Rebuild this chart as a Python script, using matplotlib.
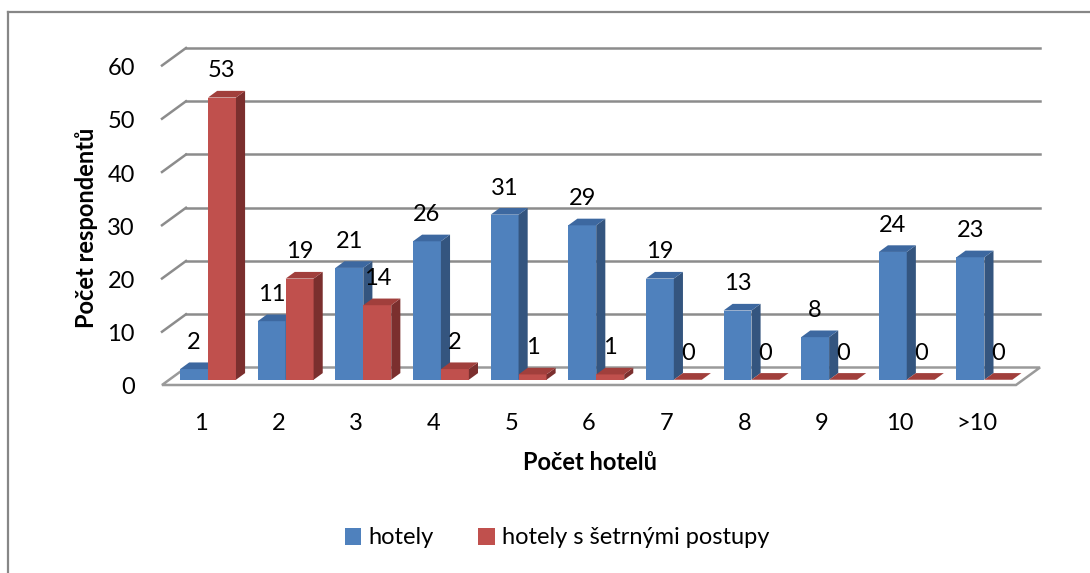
import numpy as np
import matplotlib.pyplot as plt
from matplotlib.patches import Polygon, Patch
from matplotlib.lines import Line2D

categories = ["1", "2", "3", "4", "5", "6", "7", "8", "9", "10", ">10"]
hotely = [2, 11, 21, 26, 31, 29, 19, 13, 8, 24, 23]
setrne = [53, 19, 14, 2, 1, 1, 0, 0, 0, 0, 0]
y_ticks = [0, 10, 20, 30, 40, 50, 60]
series_names = ["hotely", "hotely s šetrnými postupy"]

plt.rcParams['font.family'] = ['Lato', 'DejaVu Sans']
FS = 17

W, H = 1090, 573
fig = plt.figure(figsize=(W / 100, H / 100), dpi=100)

# front plane of the 3d box, in pixels
x0, x1 = 162, 1016
yb, yt = 385, 65.5
ax = fig.add_axes([x0 / W, 1 - yb / H, (x1 - x0) / W, (yb - yt) / H])
n = len(categories)
ax.set_xlim(-0.5, n - 0.5)
ax.set_ylim(0, 60)
ax.axis('off')

px_x = (x1 - x0) / n
px_y = (yb - yt) / 60
DX = 24 / px_x      # depth of the box, data units
DY = 17.5 / px_y

grid_c = '#8c8c8c'

# floor
floor = Polygon([(-0.5, 0), (n - 0.5, 0), (n - 0.5 + DX, DY), (-0.5 + DX, DY)],
                closed=True, facecolor='white', edgecolor='#9a9a9a', lw=1.8,
                clip_on=False, zorder=0)
ax.add_patch(floor)

# back wall grid lines + left diagonals
for v in y_ticks[1:]:
    ax.add_line(Line2D([-0.5 + DX, n - 0.5 + DX], [v + DY, v + DY], color=grid_c,
                       lw=1.8, clip_on=False, zorder=0))
    ax.add_line(Line2D([-0.5, -0.5 + DX], [v, v + DY], color=grid_c,
                       lw=1.8, clip_on=False, zorder=0))

# 3d bars
f_front = 0.3
f_depth = 0.38
bw = 0.36
sx, sy = f_front * DX, f_front * DY
ddx, ddy = f_depth * DX, f_depth * DY

colors = [('#4f81bd', '#34557f', '#3d68a0'),
          ('#c0504d', '#7b2f2e', '#a13f3c')]

for i in range(n):
    for k, vals in enumerate([hotely, setrne]):
        h = vals[i]
        front, side, top = colors[k]
        xl = i + sx - bw + k * bw
        xr = xl + bw
        ax.bar(xl, h, width=bw, bottom=sy, align='edge', color=front,
               edgecolor='none', clip_on=False)
        ax.add_patch(Polygon([(xr, sy), (xr + ddx, sy + ddy), (xr + ddx, sy + h + ddy), (xr, sy + h)],
                             closed=True, facecolor=side, edgecolor='none', clip_on=False))
        ax.add_patch(Polygon([(xl, sy + h), (xr, sy + h), (xr + ddx, sy + h + ddy), (xl + ddx, sy + h + ddy)],
                             closed=True, facecolor=top, edgecolor='none', clip_on=False))
        ax.annotate(str(h), (xl + bw / 2, sy + h + ddy), xytext=(0, 20),
                    textcoords='offset pixels', ha='center', va='center',
                    fontsize=FS, annotation_clip=False)

# tick labels
for v in y_ticks:
    ax.annotate(str(v), (-0.5, v), xytext=(-27, -3), textcoords='offset pixels',
                ha='right', va='center', fontsize=FS, annotation_clip=False)
for i, c in enumerate(categories):
    ax.annotate(c, (i, 0), xytext=(0, -38), textcoords='offset pixels',
                ha='center', va='center', fontsize=FS, annotation_clip=False)

fig.text(86 / W, 1 - 228 / H, "Počet respondentů", rotation=90, ha='center', va='center',
         fontsize=FS, fontweight='bold')
fig.text(590 / W, 1 - 462 / H, "Počet hotelů", ha='center', va='center',
         fontsize=FS, fontweight='bold')

handles = [Patch(facecolor=colors[0][0]), Patch(facecolor=colors[1][0])]
fig.legend(handles, series_names, loc='center', bbox_to_anchor=(557 / W, 1 - 538 / H),
           ncol=2, frameon=False, fontsize=FS, handlelength=0.7, handleheight=0.7,
           handletextpad=0.3, columnspacing=1.9)

# outer chart border (left and top only visible)
fig.add_artist(Line2D([8 / W, 8 / W], [0, 1 - 12 / H], color='#878787', lw=1.6))
fig.add_artist(Line2D([8 / W, 1], [1 - 12 / H, 1 - 12 / H], color='#878787', lw=1.6))

fig.savefig("out.png", dpi=100)
